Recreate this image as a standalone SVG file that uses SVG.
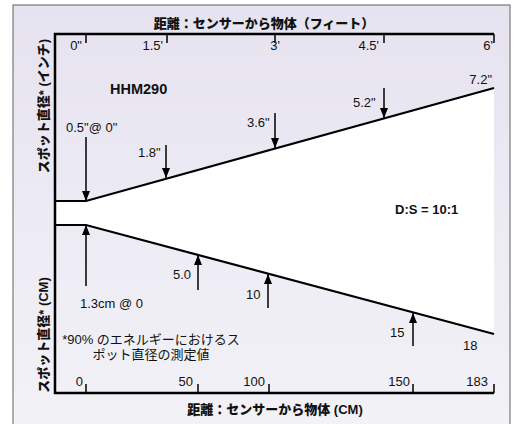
<svg xmlns="http://www.w3.org/2000/svg" width="519" height="424" viewBox="0 0 519 424">
<defs>
<linearGradient id="bg" x1="0" y1="0" x2="0" y2="1">
<stop offset="0" stop-color="#e6e3f0"/>
<stop offset="1" stop-color="#f3f2f7"/>
</linearGradient>
<marker id="ah" markerUnits="userSpaceOnUse" markerWidth="11" markerHeight="8" refX="10" refY="4" orient="auto">
<path d="M0,0 L10,4 L0,8 z" fill="#000"/>
</marker>
<style>
text{font-family:"Liberation Sans","Noto Sans CJK JP",sans-serif;fill:#111;font-size:13px}
.b{font-weight:bold}
.t{font-weight:900;font-size:13px}
.ax{stroke:#000;stroke-width:2.5;fill:none}
.tk{stroke:#000;stroke-width:1.5}
.arr{stroke:#000;stroke-width:1.5;marker-end:url(#ah)}
.beam{stroke:#000;stroke-width:2.2;fill:none}
</style>
</defs>
<rect x="13" y="5" width="497" height="430" fill="url(#bg)" stroke="#7a7a7a" stroke-width="1.2"/>

<g id="beam">
<polygon points="55,201 86,201 494,88 494,334 86,225 55,225" fill="#fff"/>
<polyline class="beam" points="55,201 86,201 494,88"/>
<polyline class="beam" points="55,225 86,225 494,334"/>
</g>

<g id="frame">
<polyline class="ax" points="494,34 55,34 55,393 494,393"/>
<line class="tk" x1="86" y1="34" x2="86" y2="43"/>
<line class="tk" x1="167" y1="34" x2="167" y2="43"/>
<line class="tk" x1="275" y1="34" x2="275" y2="43"/>
<line class="tk" x1="384" y1="34" x2="384" y2="43"/>
<line class="tk" x1="494" y1="34" x2="494" y2="43"/>
<line class="tk" x1="86" y1="393" x2="86" y2="384"/>
<line class="tk" x1="198" y1="393" x2="198" y2="384"/>
<line class="tk" x1="269" y1="393" x2="269" y2="384"/>
<line class="tk" x1="413" y1="393" x2="413" y2="384"/>
<line class="tk" x1="494" y1="393" x2="494" y2="384"/>
</g>

<g id="connectors">
<line class="arr" x1="86" y1="137" x2="86" y2="201"/>
<line class="arr" x1="166" y1="145" x2="166" y2="178"/>
<line class="arr" x1="275" y1="113" x2="275" y2="148"/>
<line class="arr" x1="384" y1="88" x2="384" y2="118"/>
<line class="arr" x1="86" y1="286" x2="86" y2="225"/>
<line class="arr" x1="198" y1="290" x2="198" y2="255"/>
<line class="arr" x1="268" y1="308" x2="268" y2="274"/>
<line class="arr" x1="413" y1="346" x2="413" y2="313"/>
</g>

<g id="titles">
<text class="t" x="264" y="28" text-anchor="middle">距離：センサーから物体（フィート）</text>
<text class="t" x="275" y="414" text-anchor="middle">距離：センサーから物体  (CM)</text>
<text class="t" transform="translate(48,106) rotate(-90)" text-anchor="middle">スポット直径* (インチ)</text>
<text class="t" transform="translate(48,335) rotate(-90)" text-anchor="middle">スポット直径* (CM)</text>
</g>

<g id="top-axis-labels" text-anchor="end">
<text x="82" y="50">0"</text>
<text x="163" y="50">1.5'</text>
<text x="280" y="50">3'</text>
<text x="379" y="50">4.5'</text>
<text x="493" y="50">6'</text>
</g>

<g id="bottom-axis-labels" text-anchor="end">
<text x="83" y="386">0</text>
<text x="193" y="386">50</text>
<text x="265" y="386">100</text>
<text x="410" y="386">150</text>
<text x="488" y="386">183</text>
</g>

<g id="labels">
<text class="b" x="110" y="94" style="font-size:14.5px">HHM290</text>
<text x="66" y="132">0.5"@ 0"</text>
<text x="138" y="157">1.8"</text>
<text x="247" y="127">3.6"</text>
<text x="353" y="107">5.2"</text>
<text x="492" y="84" text-anchor="end">7.2"</text>
<text class="b" x="395" y="214">D:S = 10:1</text>
<text x="173" y="279">5.0</text>
<text x="246" y="299">10</text>
<text x="80" y="308">1.3cm @ 0</text>
<text x="390" y="337">15</text>
<text x="463" y="350">18</text>
<text x="151" y="344" text-anchor="middle">*90% のエネルギーにおけるス</text>
<text x="151" y="359" text-anchor="middle">ポット直径の測定値</text>
</g>
</svg>
